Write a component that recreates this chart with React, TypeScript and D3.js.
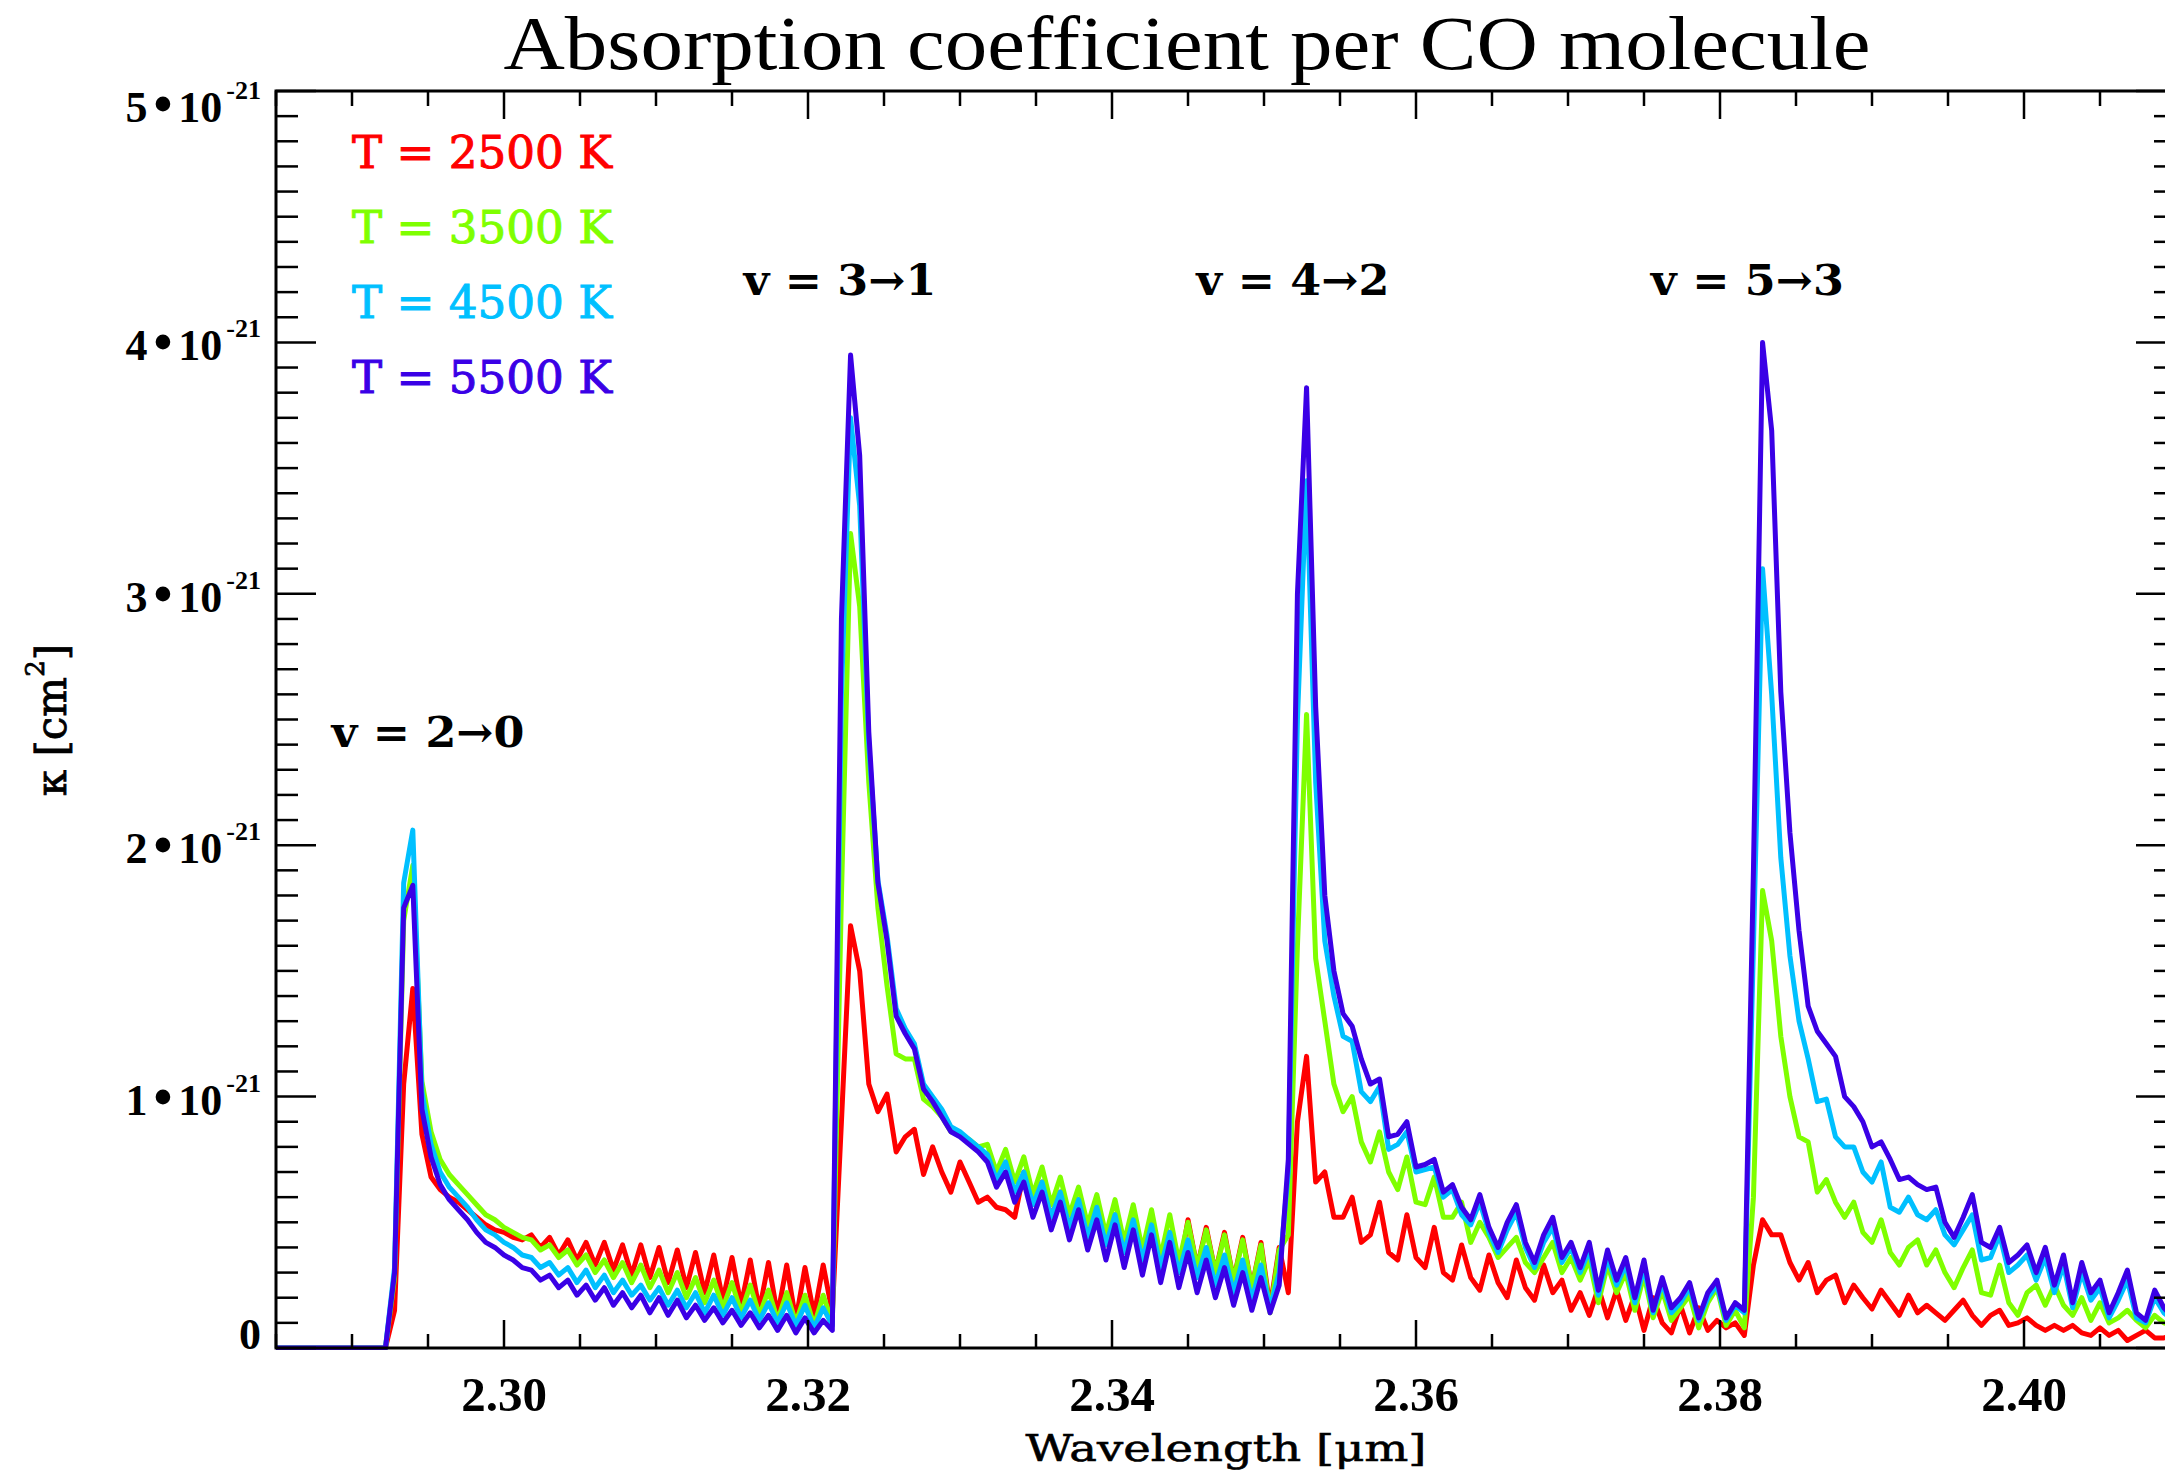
import React from 'react';
import * as d3 from 'd3';

const WIDTH = 2165;
const HEIGHT = 1475;
const PLOT = { left: 276, top: 91, right: 2176, bottom: 1348 };

// wavelength grid of the sampled spectra (micron)
const LAMBDA_START = 2.285;
const LAMBDA_STEP = 0.0006;
const X_DOMAIN = [2.285, 2.41];
const Y_DOMAIN = [0, 5]; // in units of 1e-21 cm^2

const SERIES_NAMES = ['T = 2500 K', 'T = 3500 K', 'T = 4500 K', 'T = 5500 K'];
const SERIES_COLORS = ['#ff0000', '#7fff00', '#00c0ff', '#3a00e6'];

// kappa per CO molecule, 1e-21 cm^2
const kappa2500 = [
  0, 0, 0, 0, 0, 0, 0, 0, 0, 0,
  0, 0, 0, 0.15, 1.05, 1.43, 0.85, 0.68, 0.63, 0.60,
  0.58, 0.55, 0.52, 0.49, 0.47, 0.46, 0.44, 0.43, 0.45, 0.40,
  0.44, 0.37, 0.43, 0.35, 0.42, 0.33, 0.42, 0.31, 0.41, 0.29,
  0.41, 0.28, 0.40, 0.26, 0.39, 0.24, 0.38, 0.22, 0.37, 0.19,
  0.36, 0.17, 0.35, 0.15, 0.34, 0.13, 0.33, 0.11, 0.32, 0.13,
  0.33, 0.14, 0.90, 1.68, 1.50, 1.05, 0.94, 1.01, 0.78, 0.84,
  0.87, 0.69, 0.80, 0.70, 0.62, 0.74, 0.66, 0.58, 0.60, 0.56,
  0.55, 0.52, 0.70, 0.57, 0.66, 0.52, 0.62, 0.48, 0.59, 0.44,
  0.56, 0.41, 0.53, 0.38, 0.51, 0.35, 0.49, 0.32, 0.46, 0.30,
  0.51, 0.32, 0.48, 0.30, 0.46, 0.27, 0.44, 0.24, 0.42, 0.16,
  0.40, 0.22, 0.90, 1.16, 0.66, 0.70, 0.52, 0.52, 0.60, 0.42,
  0.45, 0.58, 0.38, 0.35, 0.53, 0.36, 0.32, 0.48, 0.30, 0.27,
  0.41, 0.28, 0.23, 0.37, 0.26, 0.20, 0.35, 0.24, 0.19, 0.33,
  0.22, 0.27, 0.15, 0.22, 0.13, 0.24, 0.12, 0.23, 0.11, 0.21,
  0.07, 0.20, 0.10, 0.06, 0.17, 0.06, 0.16, 0.07, 0.11, 0.08,
  0.10, 0.05, 0.33, 0.51, 0.45, 0.45, 0.34, 0.27, 0.34, 0.22,
  0.27, 0.29, 0.18, 0.25, 0.20, 0.155, 0.23, 0.18, 0.13, 0.21,
  0.14, 0.17, 0.14, 0.11, 0.15, 0.19, 0.13, 0.09, 0.13, 0.15,
  0.09, 0.10, 0.12, 0.09, 0.07, 0.09, 0.07, 0.09, 0.06, 0.05,
  0.08, 0.05, 0.07, 0.03, 0.05, 0.07, 0.04, 0.04, 0.05,
];

const kappa3500 = [
  0, 0, 0, 0, 0, 0, 0, 0, 0, 0,
  0, 0, 0, 0.28, 1.70, 1.92, 1.06, 0.86, 0.75, 0.69,
  0.65, 0.61, 0.57, 0.53, 0.51, 0.48, 0.46, 0.44, 0.43, 0.39,
  0.41, 0.36, 0.39, 0.33, 0.37, 0.30, 0.35, 0.28, 0.34, 0.26,
  0.33, 0.24, 0.31, 0.22, 0.30, 0.20, 0.28, 0.18, 0.27, 0.16,
  0.26, 0.14, 0.25, 0.13, 0.23, 0.11, 0.22, 0.10, 0.21, 0.09,
  0.21, 0.10, 1.80, 3.24, 2.95, 2.25, 1.75, 1.44, 1.17, 1.15,
  1.15, 0.99, 0.96, 0.92, 0.86, 0.85, 0.83, 0.80, 0.81, 0.70,
  0.79, 0.66, 0.76, 0.61, 0.72, 0.57, 0.68, 0.53, 0.64, 0.49,
  0.61, 0.45, 0.59, 0.42, 0.57, 0.39, 0.55, 0.36, 0.53, 0.34,
  0.50, 0.32, 0.47, 0.30, 0.45, 0.27, 0.43, 0.24, 0.41, 0.14,
  0.39, 0.45, 1.60, 2.52, 1.55, 1.30, 1.05, 0.94, 1.00, 0.82,
  0.74, 0.86, 0.70, 0.63, 0.76, 0.58, 0.57, 0.68, 0.52, 0.52,
  0.58, 0.42, 0.50, 0.44, 0.36, 0.40, 0.44, 0.34, 0.30, 0.36,
  0.42, 0.30, 0.36, 0.27, 0.35, 0.18, 0.33, 0.22, 0.30, 0.15,
  0.29, 0.12, 0.23, 0.11, 0.16, 0.21, 0.08, 0.18, 0.24, 0.09,
  0.15, 0.08, 0.60, 1.82, 1.62, 1.24, 1.00, 0.84, 0.82, 0.62,
  0.67, 0.58, 0.52, 0.58, 0.46, 0.42, 0.51, 0.38, 0.33, 0.40,
  0.43, 0.33, 0.39, 0.30, 0.24, 0.32, 0.39, 0.22, 0.21, 0.33,
  0.18, 0.13, 0.22, 0.25, 0.17, 0.25, 0.17, 0.13, 0.20, 0.11,
  0.18, 0.10, 0.12, 0.15, 0.11, 0.08, 0.13, 0.10, 0.09,
];

const kappa4500 = [
  0, 0, 0, 0, 0, 0, 0, 0, 0, 0,
  0, 0, 0, 0.32, 1.85, 2.06, 1.02, 0.81, 0.70, 0.64,
  0.60, 0.56, 0.51, 0.47, 0.45, 0.42, 0.40, 0.37, 0.36, 0.32,
  0.34, 0.29, 0.32, 0.26, 0.31, 0.24, 0.29, 0.22, 0.27, 0.21,
  0.25, 0.19, 0.24, 0.17, 0.23, 0.16, 0.22, 0.14, 0.21, 0.13,
  0.20, 0.12, 0.19, 0.11, 0.18, 0.10, 0.18, 0.09, 0.17, 0.08,
  0.16, 0.09, 2.60, 3.70, 3.35, 2.40, 1.86, 1.64, 1.35, 1.27,
  1.21, 1.05, 1.00, 0.95, 0.88, 0.86, 0.83, 0.80, 0.77, 0.67,
  0.74, 0.62, 0.70, 0.57, 0.66, 0.52, 0.62, 0.48, 0.59, 0.44,
  0.56, 0.41, 0.53, 0.38, 0.51, 0.35, 0.49, 0.32, 0.46, 0.30,
  0.43, 0.28, 0.40, 0.25, 0.37, 0.22, 0.35, 0.19, 0.33, 0.16,
  0.30, 0.70, 2.50, 3.45, 2.25, 1.62, 1.40, 1.24, 1.22, 1.02,
  0.98, 1.04, 0.79, 0.81, 0.86, 0.70, 0.71, 0.72, 0.60, 0.63,
  0.53, 0.49, 0.58, 0.46, 0.38, 0.47, 0.54, 0.40, 0.32, 0.42,
  0.48, 0.34, 0.40, 0.30, 0.39, 0.21, 0.36, 0.25, 0.33, 0.18,
  0.32, 0.14, 0.26, 0.14, 0.18, 0.24, 0.11, 0.20, 0.25, 0.11,
  0.17, 0.14, 1.60, 3.10, 2.60, 1.95, 1.56, 1.30, 1.15, 0.98,
  0.99, 0.84, 0.80, 0.80, 0.70, 0.66, 0.74, 0.56, 0.54, 0.60,
  0.53, 0.51, 0.55, 0.45, 0.41, 0.47, 0.53, 0.35, 0.36, 0.45,
  0.30, 0.33, 0.37, 0.27, 0.36, 0.22, 0.33, 0.16, 0.30, 0.19,
  0.24, 0.12, 0.19, 0.27, 0.12, 0.10, 0.20, 0.14, 0.11,
];

const kappa5500 = [
  0, 0, 0, 0, 0, 0, 0, 0, 0, 0,
  0, 0, 0, 0.30, 1.75, 1.84, 0.95, 0.76, 0.65, 0.59,
  0.55, 0.51, 0.46, 0.42, 0.40, 0.37, 0.35, 0.32, 0.31, 0.27,
  0.29, 0.24, 0.27, 0.21, 0.25, 0.19, 0.24, 0.17, 0.22, 0.16,
  0.21, 0.14, 0.20, 0.13, 0.19, 0.12, 0.17, 0.11, 0.16, 0.10,
  0.15, 0.09, 0.14, 0.08, 0.13, 0.07, 0.13, 0.06, 0.12, 0.06,
  0.11, 0.07, 2.90, 3.95, 3.55, 2.45, 1.85, 1.62, 1.32, 1.25,
  1.19, 1.03, 0.98, 0.92, 0.86, 0.84, 0.81, 0.78, 0.74, 0.64,
  0.70, 0.58, 0.66, 0.52, 0.62, 0.47, 0.58, 0.43, 0.55, 0.39,
  0.51, 0.35, 0.49, 0.32, 0.47, 0.29, 0.45, 0.26, 0.42, 0.24,
  0.38, 0.22, 0.35, 0.20, 0.32, 0.17, 0.30, 0.15, 0.28, 0.14,
  0.25, 0.75, 3.00, 3.82, 2.55, 1.80, 1.50, 1.33, 1.28, 1.15,
  1.05, 1.07, 0.84, 0.85, 0.90, 0.72, 0.73, 0.75, 0.62, 0.65,
  0.56, 0.51, 0.61, 0.48, 0.40, 0.50, 0.57, 0.42, 0.34, 0.45,
  0.52, 0.36, 0.42, 0.32, 0.42, 0.23, 0.39, 0.27, 0.36, 0.20,
  0.35, 0.15, 0.28, 0.16, 0.20, 0.26, 0.12, 0.22, 0.27, 0.12,
  0.18, 0.15, 1.90, 4.00, 3.65, 2.61, 2.05, 1.66, 1.36, 1.26,
  1.21, 1.16, 1.00, 0.96, 0.90, 0.80, 0.82, 0.75, 0.67, 0.68,
  0.65, 0.63, 0.64, 0.50, 0.44, 0.52, 0.61, 0.42, 0.40, 0.48,
  0.34, 0.37, 0.41, 0.30, 0.40, 0.25, 0.37, 0.18, 0.34, 0.22,
  0.27, 0.14, 0.22, 0.31, 0.14, 0.11, 0.23, 0.16, 0.12,
];

const X_TICKS = [2.3, 2.32, 2.34, 2.36, 2.38, 2.4];
const X_TICK_LABELS = ['2.30', '2.32', '2.34', '2.36', '2.38', '2.40'];
const Y_TICKS = [0, 1, 2, 3, 4, 5];
const Y_TICK_MANTISSA = ['0', '1', '2', '3', '4', '5'];
const Y_TICK_EXPONENT = '-21';

const BAND_LABELS = ['v = 2\u21920', 'v = 3\u21921', 'v = 4\u21922', 'v = 5\u21923'];
const BAND_LAMBDA = [2.295, 2.3221, 2.3519, 2.3818];
const BAND_KAPPA = [2.39, 4.19, 4.19, 4.19];

const TITLE = 'Absorption coefficient per CO molecule';
const X_TITLE = 'Wavelength [\u03bcm]';

const FONT = "'Liberation Serif', 'Times New Roman', serif";
const FONT2 = "'DejaVu Serif', 'Liberation Serif', serif";

export default function App() {
  const x = d3.scaleLinear().domain(X_DOMAIN).range([PLOT.left, PLOT.right]);
  const y = d3.scaleLinear().domain(Y_DOMAIN).range([PLOT.bottom, PLOT.top]);

  const allSeries = [kappa2500, kappa3500, kappa4500, kappa5500];
  const line = d3
    .line<number>()
    .x((_, i) => x(LAMBDA_START + i * LAMBDA_STEP))
    .y((d) => y(d))
    .curve(d3.curveLinear);

  const xMinor = d3.range(0, 26).map((k) => X_DOMAIN[0] + k * 0.005);
  const yMinor = d3.range(0, 51).map((k) => k * 0.1);
  const isXMajor = (v: number) => X_TICKS.some((t) => Math.abs(t - v) < 1e-6);
  const isYMajor = (v: number) => Math.abs(v - Math.round(v)) < 1e-6;

  const yLabelDy = (v: number) => (v === 0 ? 1 : v === 5 ? 31 : 18);

  return (
    <svg
      width={WIDTH}
      height={HEIGHT}
      viewBox={`0 0 ${WIDTH} ${HEIGHT}`}
      style={{ position: 'absolute', left: 0, top: 0, background: '#fff', display: 'block' }}
    >
      <rect x={0} y={0} width={WIDTH} height={HEIGHT} fill="#fff" />
      <defs>
        <clipPath id="plotclip">
          <rect x={PLOT.left} y={PLOT.top - 2} width={PLOT.right - PLOT.left} height={PLOT.bottom - PLOT.top + 4} />
        </clipPath>
      </defs>

      {/* title */}
      <text
        x={1187}
        y={69}
        fontFamily={FONT}
        fontSize={77}
        textAnchor="middle"
        textLength={1367}
        lengthAdjust="spacingAndGlyphs"
        fill="#000"
      >
        {TITLE}
      </text>

      {/* data */}
      <g clipPath="url(#plotclip)">
        {allSeries.map((s, k) => (
          <path
            key={k}
            d={line(s) || ''}
            fill="none"
            stroke={SERIES_COLORS[k]}
            strokeWidth={5}
            strokeLinejoin="round"
            strokeLinecap="round"
          />
        ))}
      </g>

      {/* frame */}
      <rect
        x={PLOT.left}
        y={PLOT.top}
        width={PLOT.right - PLOT.left}
        height={PLOT.bottom - PLOT.top}
        fill="none"
        stroke="#000"
        strokeWidth={3}
      />

      {/* x ticks bottom & top */}
      {xMinor.map((v, k) => {
        const major = isXMajor(v);
        const px = x(v);
        return (
          <g key={`xt${k}`} stroke="#000" strokeWidth={2.5}>
            <line x1={px} x2={px} y1={PLOT.bottom} y2={PLOT.bottom - (major ? 28 : 14)} />
            <line x1={px} x2={px} y1={PLOT.top} y2={PLOT.top + (major ? 28 : 15)} />
          </g>
        );
      })}

      {/* y ticks left & right */}
      {yMinor.map((v, k) => {
        const major = isYMajor(v);
        const py = y(v);
        return (
          <g key={`yt${k}`} stroke="#000" strokeWidth={2.5}>
            <line x1={PLOT.left} x2={PLOT.left + (major ? 40 : 22)} y1={py} y2={py} />
            <line x1={PLOT.right} x2={PLOT.right - (major ? 40 : 22)} y1={py} y2={py} />
          </g>
        );
      })}

      {/* x tick labels */}
      {X_TICKS.map((v, k) => (
        <text
          key={`xl${k}`}
          x={x(v)}
          y={1411}
          fontFamily={FONT}
          fontSize={49}
          fontWeight="bold"
          textAnchor="middle"
          fill="#000"
        >
          {X_TICK_LABELS[k]}
        </text>
      ))}

      {/* y tick labels */}
      {Y_TICKS.map((v, k) => (
        <text
          key={`yl${k}`}
          x={261}
          y={y(v) + yLabelDy(v)}
          fontFamily={FONT}
          fontSize={44}
          fontWeight="bold"
          textAnchor="end"
          fill="#000"
        >
          {v === 0 ? (
            Y_TICK_MANTISSA[k]
          ) : (
            <>
              <tspan>{Y_TICK_MANTISSA[k]}</tspan>
              <tspan dx={6} fontSize={54}>
                {'\u2022'}
              </tspan>
              <tspan dx={6}>10</tspan>
              <tspan dx={4} dy={-23} fontSize={26}>
                {Y_TICK_EXPONENT}
              </tspan>
            </>
          )}
        </text>
      ))}

      {/* axis titles */}
      <text
        x={1226}
        y={1461}
        fontFamily={FONT2}
        fontSize={38}
        textAnchor="middle"
        textLength={401}
        lengthAdjust="spacingAndGlyphs"
        stroke="#000"
        strokeWidth={0.6}
        fill="#000"
      >
        {X_TITLE}
      </text>
      <text
        transform="translate(66,720) rotate(-90)"
        fontFamily={FONT2}
        fontSize={42}
        textAnchor="middle"
        stroke="#000"
        strokeWidth={0.8}
        fill="#000"
      >
        <tspan>{'\u03ba [cm'}</tspan>
        <tspan dy={-22} fontSize={26}>
          2
        </tspan>
        <tspan dy={22}>]</tspan>
      </text>

      {/* band labels */}
      {BAND_LABELS.map((lab, k) => (
        <text
          key={`bl${k}`}
          x={x(BAND_LAMBDA[k])}
          y={y(BAND_KAPPA[k])}
          fontFamily={FONT2}
          fontSize={43}
          fontWeight="bold"
          textAnchor="middle"
          textLength={193}
          lengthAdjust="spacingAndGlyphs"
          fill="#000"
        >
          {lab}
        </text>
      ))}

      {/* legend */}
      {SERIES_NAMES.map((name, k) => (
        <text
          key={`lg${k}`}
          x={PLOT.left + 76}
          y={168 + k * 75}
          fontFamily={FONT2}
          fontSize={45}
          textLength={260}
          lengthAdjust="spacingAndGlyphs"
          stroke={SERIES_COLORS[k]}
          strokeWidth={1}
          fill={SERIES_COLORS[k]}
        >
          {name}
        </text>
      ))}
    </svg>
  );
}
